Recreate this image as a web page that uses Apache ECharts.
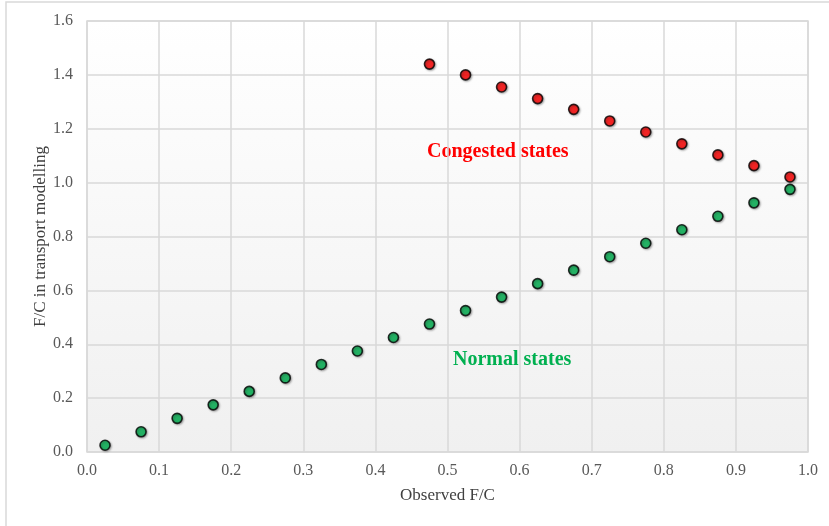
<!DOCTYPE html>
<html><head><meta charset="utf-8">
<script src="https://cdn.jsdelivr.net/npm/echarts@6/dist/echarts.min.js"></script>
<style>html,body{margin:0;padding:0;background:#fff;}#c{width:829px;height:526px;}</style>
</head><body><div id="c"></div>
<script>
const normalX = [0.025,0.075,0.125,0.175,0.225,0.275,0.325,0.375,0.425,0.475,0.525,0.575,0.625,0.675,0.725,0.775,0.825,0.875,0.925,0.975];
const normalY = [0.025,0.075,0.125,0.175,0.225,0.275,0.325,0.375,0.425,0.475,0.525,0.575,0.625,0.675,0.725,0.775,0.825,0.875,0.925,0.975];
const congestedX = [0.475,0.525,0.575,0.625,0.675,0.725,0.775,0.825,0.875,0.925,0.975];
const congestedY = [1.44,1.40,1.355,1.312,1.272,1.229,1.188,1.144,1.103,1.063,1.021];
const xAxisName = 'Observed F/C';
const yAxisName = 'F/C in transport modelling';
const congestedLabel = 'Congested states';
const normalLabel = 'Normal states';

const chart = echarts.init(document.getElementById('c'), null, {renderer:'canvas'});
const font = '"Liberation Serif","Times New Roman",serif';
const markerStyle = (c) => ({color:c, borderColor:'#000', borderWidth:1.6, shadowColor:'rgba(0,0,0,0.35)', shadowBlur:2, shadowOffsetX:1, shadowOffsetY:1});
chart.setOption({
  animation:false,
  backgroundColor:'#fff',
  textStyle:{fontFamily:font},
  graphic:[
    {type:'rect', shape:{x:6,y:2,width:900,height:600}, style:{fill:'none', stroke:'#d9d9d9', lineWidth:1.5}, silent:true, z:-10},
    {type:'text', left:427, top:142, style:{text:congestedLabel, fill:'#ff0000', font:'bold 20px '+font}},
    {type:'text', left:453, top:350, style:{text:normalLabel, fill:'#00b050', font:'bold 20px '+font}}
  ],
  grid:{left:87, top:21, right:21, bottom:74, show:true, borderColor:'#d9d9d9', borderWidth:1.5,
    backgroundColor:new echarts.graphic.LinearGradient(0,0,0,1,[{offset:0,color:'#ffffff'},{offset:1,color:'#f0f0f0'}])},
  xAxis:{type:'value', min:0, max:1, interval:0.1,
    name:xAxisName, nameLocation:'middle', nameGap:35, nameMoveOverlap:false,
    nameTextStyle:{color:'#404040', fontSize:17, fontFamily:font},
    axisLine:{show:false}, axisTick:{show:false},
    axisLabel:{color:'#595959', fontSize:16, fontFamily:font, margin:11, formatter:v=>v.toFixed(1)},
    splitLine:{show:true, lineStyle:{color:'#d9d9d9', width:1.5}}},
  yAxis:{type:'value', min:0, max:1.6, interval:0.2,
    name:yAxisName, nameLocation:'middle', nameGap:38, nameMoveOverlap:false,
    nameTextStyle:{color:'#404040', fontSize:17, fontFamily:font},
    axisLine:{show:false}, axisTick:{show:false},
    axisLabel:{color:'#595959', fontSize:16, fontFamily:font, margin:14, formatter:v=>v.toFixed(1)},
    splitLine:{show:true, lineStyle:{color:'#d9d9d9', width:1.5}}},
  series:[
    {type:'scatter', name:'Normal', symbolSize:10, data:normalX.map((x,i)=>[x,normalY[i]]), itemStyle:markerStyle('#00b050')},
    {type:'scatter', name:'Congested', symbolSize:10, data:congestedX.map((x,i)=>[x,congestedY[i]]), itemStyle:markerStyle('#ff0000')}
  ]
});
</script></body></html>
